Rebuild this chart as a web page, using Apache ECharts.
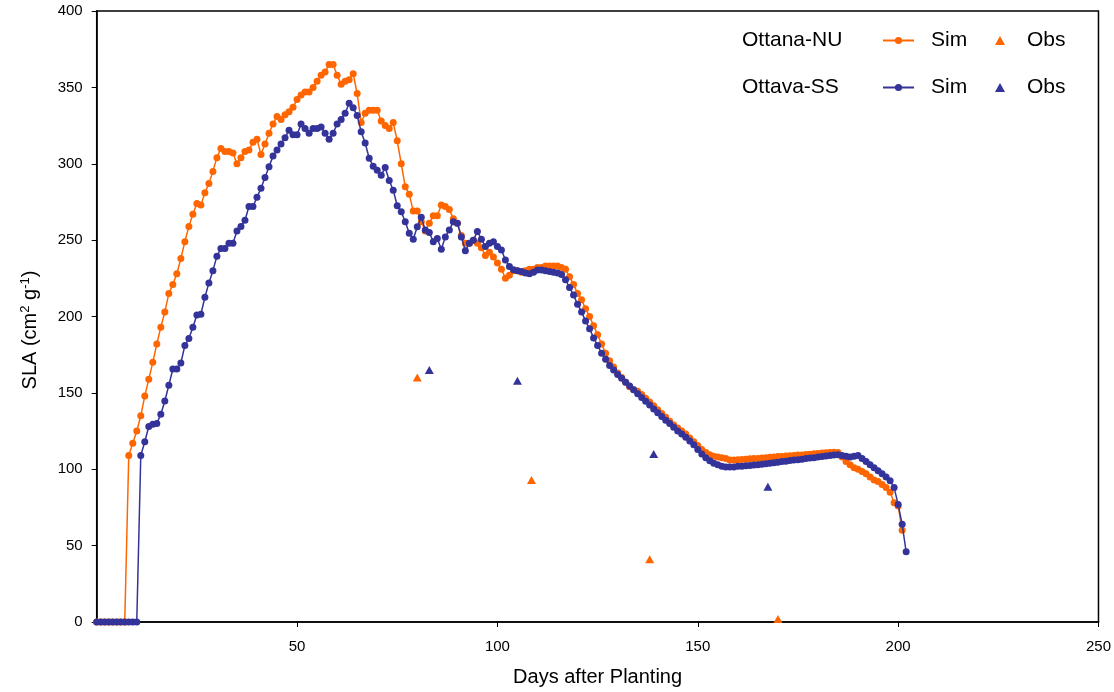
<!DOCTYPE html>
<html>
<head>
<meta charset="utf-8">
<script src="https://cdn.jsdelivr.net/npm/echarts/dist/echarts.min.js"></script>
<style>html,body{margin:0;padding:0;background:#fff;}#c{width:1114px;height:692px;}</style>
</head>
<body>
<div id="c"></div>
<script>
// Ottana-NU simulated SLA, one value per day starting at day 0
const nuSim = [
  0,0,0,0,0,0,0,0,
  109,117,125,135,148,159,170,182,193,203,
  215,221,228,238,249,259,267,274,273,281,
  287,295,304,310,308,308,307,300,304,308,
  309,314,316,306,313,320,326,331,329,332,
  334,337,342,345,347,347,350,354,358,360,
  365,365,358,352,354,355,359,346,327,333,
  335,335,335,328,325,323,327,315,300,285,
  280,269,269,262,256,261,266,266,273,272,
  270,264,261,253,248,248,250,248,245,240,
  242,239,235,231,225,227,230,230,229,230,
  231,231,232,232,233,233,233,233,232,231,
  226,221,215,211,205,200,194,188,182,176,
  171,167,163,160,157,154,152,151,149,146.5,
  144,141.5,139,136.5,134,131.5,129,127,125,123,
  120.5,118,115.5,113,111,109.5,108.5,108,107.5,107,
  106,106,106.2,106.4,106.5,106.8,107,107.1,107.4,107.6,
  107.8,108,108.3,108.4,108.6,108.9,109,109.3,109.4,109.7,
  109.9,110.1,110.3,110.6,110.8,111,111.2,
  111,108,105,103,101,100,98.5,97,95,93,
  92,90,88,85,78,76,60
];
// Ottava-SS simulated SLA, one value per day starting at day 0
const ssSim = [
  0,0,0,0,0,0,0,0,0,0,0,
  109,118,128,129.5,130,136,144.7,155,165.6,165.6,
  169.5,181,185.6,193,201,201.5,212.6,222,230,239.5,
  244.5,244.5,248,248,256,259,263,272,272,278,
  284,291,298,305,309,313,317,322,319,319,
  326,323,320,323,323,324,320,316,320,326,
  329,333,339.6,336.6,331.6,321,313.6,303.6,298.4,295.8,
  292.5,297.5,289,282.7,272.5,268.6,262,254.5,250.6,258.8,
  265,256.7,255,249,251,244,252,256.7,262,261,
  252,243,248,250,255.6,250.6,245.8,248,249,245.8,
  243.6,237,232.8,230.6,230,229.5,228.5,228,229,230.5,
  230.5,230,229.5,229,228.5,227.5,224,219,214,208,
  203,197,192,186,181,176,172,168,165,162,
  159.5,157,154.5,152,149.5,147,144.5,142,139.5,137,
  134.5,132,130,127.5,125,123,121,118.5,116,113,
  110,107.5,105.5,104,103,102,101.5,101.5,101.5,102,
  102,102.3,102.5,102.8,103,103.3,103.6,104,104.3,104.6,
  105,105.3,105.7,106,106.3,106.6,107,107.3,107.6,108,
  108.3,108.6,109,109.3,109.5,109,108.5,108,108.5,109,
  107,105,103,101,99,97,95,92.5,88,77,64,46
];
// Observations
const nuObsDays = [80, 108.5, 138, 170];
const nuObsVals = [160, 93, 41, 2];
const ssObsDays = [83, 105, 139, 167.5];
const ssObsVals = [165, 158, 110, 88.5];
// Axis ticks
const xTicks = {min: 0, max: 250, step: 50};
const yTicks = {min: 0, max: 400, step: 50};

const ORANGE = '#FF6600', BLUE = '#333399';
const FONT = '"Liberation Sans", Arial, Helvetica, sans-serif';

const toPairs = arr => arr.map((v, i) => [i, v]);
const zip = (a, b) => a.map((d, i) => [d, b[i]]);

const GRID = {left: 96.7, right: 14, top: 11, bottom: 68.5};

const chart = echarts.init(document.getElementById('c'), null, {renderer: 'canvas'});
const legendBase = {
  orient: 'horizontal', padding: 0, selectedMode: false,
  formatter: n => n.split(' ')[1]
};
const legText = pad => ({fontSize: 21, fontFamily: FONT, color: '#000', padding: [0, 0, 0, pad]});
chart.setOption({
  animation: false,
  backgroundColor: '#fff',
  grid: Object.assign({show: true, borderColor: '#000', borderWidth: 1.5, backgroundColor: 'transparent'}, GRID),
  xAxis: {
    type: 'value', min: xTicks.min, max: xTicks.max, interval: xTicks.step,
    name: 'Days after Planting', nameLocation: 'middle', nameGap: 45,
    nameTextStyle: {fontSize: 20, fontFamily: FONT, color: '#000'},
    axisLine: {show: true, lineStyle: {color: '#000', width: 1.5}},
    axisTick: {show: true, inside: false, length: 5, lineStyle: {color: '#000'}},
    axisLabel: {showMinLabel: false, fontSize: 15, fontFamily: FONT, color: '#000', margin: 17},
    splitLine: {show: false}
  },
  yAxis: {
    type: 'value', min: yTicks.min, max: yTicks.max, interval: yTicks.step,
    axisLine: {show: true, lineStyle: {color: '#000', width: 1.5}},
    axisTick: {show: true, inside: false, length: 5, lineStyle: {color: '#000'}},
    axisLabel: {fontSize: 15, fontFamily: FONT, color: '#000', margin: 14},
    splitLine: {show: false}
  },
  legend: [
    Object.assign({}, legendBase, {data: ['Ottana-NU Sim'], left: 882, top: 30, itemWidth: 31, itemHeight: 9, textStyle: legText(12)}),
    Object.assign({}, legendBase, {data: ['Ottana-NU Obs'], left: 995, top: 30, itemWidth: 10, itemHeight: 9, textStyle: legText(17)}),
    Object.assign({}, legendBase, {data: ['Ottava-SS Sim'], left: 882, top: 77, itemWidth: 31, itemHeight: 9, textStyle: legText(12)}),
    Object.assign({}, legendBase, {data: ['Ottava-SS Obs'], left: 995, top: 77, itemWidth: 10, itemHeight: 9, textStyle: legText(17)})
  ],
  graphic: [
    {type: 'text', left: 742, top: 30, style: {text: 'Ottana-NU', fontSize: 21, fontFamily: FONT, fill: '#000'}},
    {type: 'text', left: 742, top: 77, style: {text: 'Ottava-SS', fontSize: 21, fontFamily: FONT, fill: '#000'}},
    {type: 'text', x: 30, y: 330, rotation: Math.PI / 2,
      style: {
        text: '{n|SLA (cm}{s|2}{n| g}{s|-1}{n|)}', align: 'center', verticalAlign: 'middle', fill: '#000',
        rich: {
          n: {fontSize: 20, fontFamily: FONT, fill: '#000', lineHeight: 24},
          s: {fontSize: 13, fontFamily: FONT, fill: '#000', lineHeight: 24, padding: [0, 0, 10, 0]}
        }
      }}
  ],
  series: [
    {name: 'Ottana-NU Sim', type: 'line', data: toPairs(nuSim), symbol: 'circle', symbolSize: 7, showAllSymbol: true,
      lineStyle: {color: ORANGE, width: 1.5}, itemStyle: {color: ORANGE}, z: 2},
    {name: 'Ottava-SS Sim', type: 'line', data: toPairs(ssSim), symbol: 'circle', symbolSize: 7, showAllSymbol: true,
      lineStyle: {color: BLUE, width: 1.5}, itemStyle: {color: BLUE}, z: 3},
    {name: 'Ottana-NU Obs', type: 'scatter', data: zip(nuObsDays, nuObsVals), symbol: 'triangle', symbolSize: [9, 8],
      itemStyle: {color: ORANGE, opacity: 1}, z: 4},
    {name: 'Ottava-SS Obs', type: 'scatter', data: zip(ssObsDays, ssObsVals), symbol: 'triangle', symbolSize: [9, 8],
      itemStyle: {color: BLUE, opacity: 1}, z: 4}
  ]
});
</script>
</body>
</html>
